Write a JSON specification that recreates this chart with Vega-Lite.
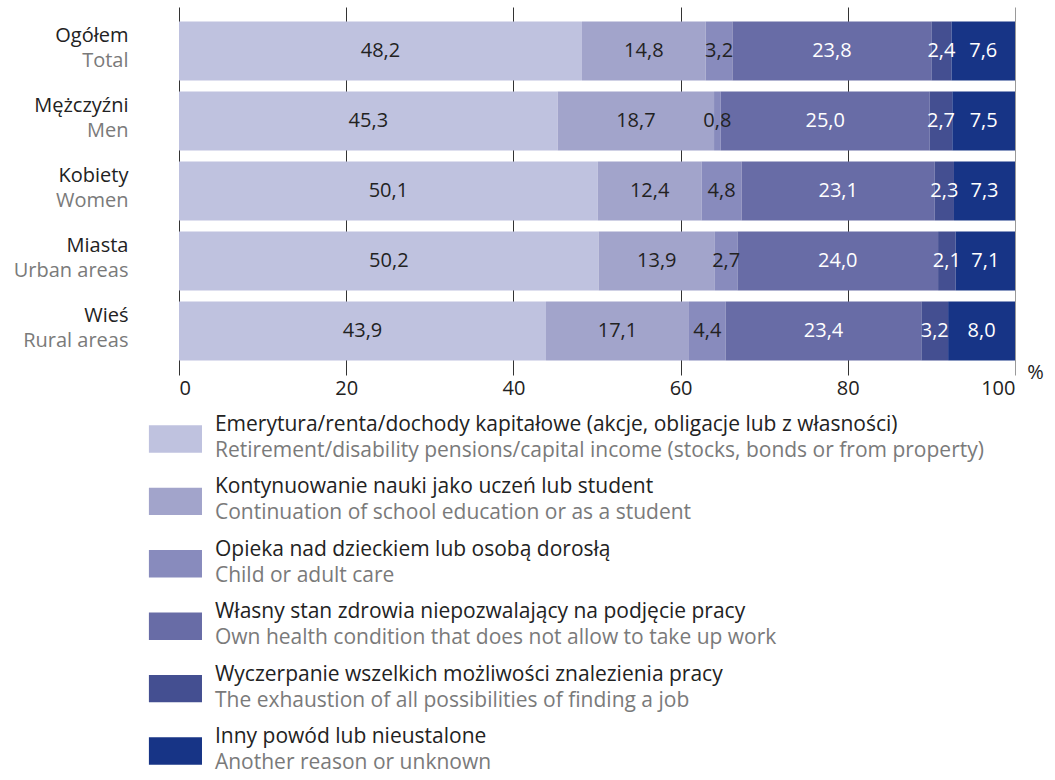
{
  "$schema": "https://vega.github.io/schema/vega-lite/v6.json",
  "padding": {"left": 13, "top": 7, "right": 0, "bottom": 0},
  "bounds": "flush",
  "spacing": 44,
  "config": {
    "font": "Open Sans",
    "view": {"stroke": null},
    "locale": {"number": {"decimal": ",", "thousands": " ", "grouping": [3], "currency": ["", " zł"]}}
  },
  "datasets": {
    "bars": [
      {"group": "Ogółem", "k": 1, "value": 48.2},
      {"group": "Ogółem", "k": 2, "value": 14.8},
      {"group": "Ogółem", "k": 3, "value": 3.2},
      {"group": "Ogółem", "k": 4, "value": 23.8},
      {"group": "Ogółem", "k": 5, "value": 2.4},
      {"group": "Ogółem", "k": 6, "value": 7.6},
      {"group": "Mężczyźni", "k": 1, "value": 45.3},
      {"group": "Mężczyźni", "k": 2, "value": 18.7},
      {"group": "Mężczyźni", "k": 3, "value": 0.8},
      {"group": "Mężczyźni", "k": 4, "value": 25.0},
      {"group": "Mężczyźni", "k": 5, "value": 2.7},
      {"group": "Mężczyźni", "k": 6, "value": 7.5},
      {"group": "Kobiety", "k": 1, "value": 50.1},
      {"group": "Kobiety", "k": 2, "value": 12.4},
      {"group": "Kobiety", "k": 3, "value": 4.8},
      {"group": "Kobiety", "k": 4, "value": 23.1},
      {"group": "Kobiety", "k": 5, "value": 2.3},
      {"group": "Kobiety", "k": 6, "value": 7.3},
      {"group": "Miasta", "k": 1, "value": 50.2},
      {"group": "Miasta", "k": 2, "value": 13.9},
      {"group": "Miasta", "k": 3, "value": 2.7},
      {"group": "Miasta", "k": 4, "value": 24.0},
      {"group": "Miasta", "k": 5, "value": 2.1},
      {"group": "Miasta", "k": 6, "value": 7.1},
      {"group": "Wieś", "k": 1, "value": 43.9},
      {"group": "Wieś", "k": 2, "value": 17.1},
      {"group": "Wieś", "k": 3, "value": 4.4},
      {"group": "Wieś", "k": 4, "value": 23.4},
      {"group": "Wieś", "k": 5, "value": 3.2},
      {"group": "Wieś", "k": 6, "value": 8.0}
    ],
    "legend": [
      {"k": 1, "pl": "Emerytura/renta/dochody kapitałowe (akcje, obligacje lub z własności)", "en": "Retirement/disability pensions/capital income (stocks, bonds or from property)"},
      {"k": 2, "pl": "Kontynuowanie nauki jako uczeń lub student", "en": "Continuation of school education or as a student"},
      {"k": 3, "pl": "Opieka nad dzieckiem lub osobą dorosłą", "en": "Child or adult care"},
      {"k": 4, "pl": "Własny stan zdrowia niepozwalający na podjęcie pracy", "en": "Own health condition that does not allow to take up work"},
      {"k": 5, "pl": "Wyczerpanie wszelkich możliwości znalezienia pracy", "en": "The exhaustion of all possibilities of finding a job"},
      {"k": 6, "pl": "Inny powód lub nieustalone", "en": "Another reason or unknown"}
    ]
  },
  "vconcat": [
    {
      "width": 836,
      "height": 368,
      "data": {"name": "bars"},
      "layer": [
        {
          "mark": {"type": "bar"},
          "encoding": {
            "y": {
              "field": "group", "type": "nominal", "sort": null,
              "scale": {"paddingInner": 0.157, "paddingOuter": 0.207},
              "axis": {"title": null, "orient": "left", "ticks": false, "domain": false, "labelPadding": 51, "labelFontSize": 20, "labelColor": "#222222", "labelOffset": -15, "labelBaseline": "middle", "labelLimit": 300}
            },
            "x": {
              "field": "value", "type": "quantitative", "stack": "zero",
              "scale": {"domain": [0, 100], "nice": false},
              "axis": {
                "title": "%", "titleFontSize": 20, "titleFontWeight": "normal", "titleColor": "#222222",
                "titleX": 856, "titleY": 3, "titleAlign": "center", "titleBaseline": "alphabetic", "titleAnchor": null,
                "values": [0, 20, 40, 60, 80, 100], "format": "d",
                "grid": true,
                "gridColor": {"condition": {"test": "datum.value == 100", "value": "#9a9a9a"}, "value": "#333333"},
                "gridWidth": 1, "ticks": false, "domain": false,
                "labelFontSize": 20, "labelColor": "#222222", "labelPadding": 3
              }
            },
            "order": {"field": "k", "type": "quantitative", "sort": "ascending"},
            "color": {
              "field": "k", "type": "nominal",
              "scale": {"domain": [1, 2, 3, 4, 5, 6], "range": ["#bfc2df", "#a2a4cb", "#888bbd", "#686ca6", "#444f91", "#173486"]},
              "legend": null
            }
          }
        },
        {
          "mark": {"type": "text", "fontSize": 20, "baseline": "middle", "align": "center"},
          "encoding": {
            "y": {
              "field": "group", "type": "nominal", "sort": null,
              "axis": {"title": null, "orient": "left", "ticks": false, "domain": false, "labelPadding": 51, "labelFontSize": 20, "labelColor": "#7a7a7a", "labelOffset": 10, "labelBaseline": "middle", "labelLimit": 300,
                "labelExpr": "datum.label == 'Ogółem' ? 'Total' : datum.label == 'Mężczyźni' ? 'Men' : datum.label == 'Kobiety' ? 'Women' : datum.label == 'Miasta' ? 'Urban areas' : 'Rural areas'"}
            },
            "x": {"field": "value", "type": "quantitative", "stack": "zero", "bandPosition": 0.5},
            "order": {"field": "k", "type": "quantitative", "sort": "ascending"},
            "text": {"field": "value", "type": "quantitative", "format": ".1f"},
            "color": {"condition": {"test": "datum.k >= 4", "value": "#ffffff"}, "value": "#222222"}
          }
        }
      ],
      "resolve": {"axis": {"y": "independent"}}
    },
    {
      "width": 836,
      "height": 352,
      "data": {"name": "legend"},
      "encoding": {
        "y": {"field": "pl", "type": "nominal", "sort": null, "axis": null, "scale": {"paddingInner": 0.56, "paddingOuter": 0.1}}
      },
      "layer": [
        {
          "mark": {"type": "rect"},
          "encoding": {
            "x": {"datum": -3.6, "type": "quantitative", "scale": {"domain": [0, 100], "nice": false}, "axis": null},
            "x2": {"datum": 2.75},
            "color": {"field": "k", "type": "nominal", "scale": {"domain": [1, 2, 3, 4, 5, 6], "range": ["#bfc2df", "#a2a4cb", "#888bbd", "#686ca6", "#444f91", "#173486"]}, "legend": null}
          }
        },
        {
          "mark": {"type": "text", "align": "left", "baseline": "middle", "dy": -14, "fontSize": 21, "color": "#222222"},
          "encoding": {
            "x": {"datum": 4.3, "type": "quantitative"},
            "text": {"field": "pl"}
          }
        },
        {
          "mark": {"type": "text", "align": "left", "baseline": "middle", "dy": 12, "fontSize": 21, "color": "#7a7a7a"},
          "encoding": {
            "x": {"datum": 4.3, "type": "quantitative"},
            "text": {"field": "en"}
          }
        }
      ]
    }
  ]
}
